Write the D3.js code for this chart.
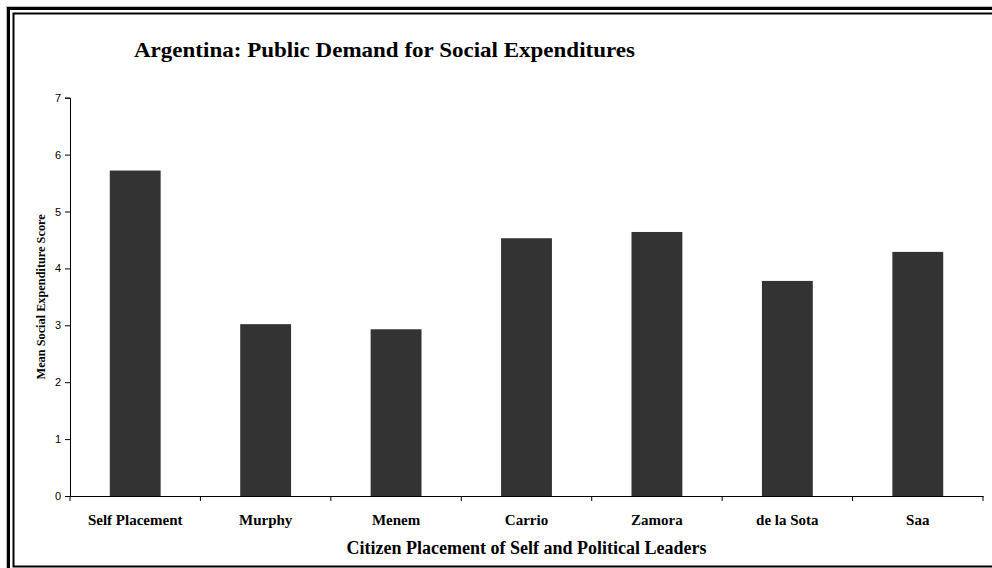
<!DOCTYPE html>
<html><head><meta charset="utf-8">
<script src="https://cdn.jsdelivr.net/npm/d3@7"></script>
<style>body{margin:0;background:#fff;} svg{display:block;}</style>
</head><body>
<svg id="c" width="992" height="568"></svg>
<script>
const categories = ["Self Placement","Murphy","Menem","Carrio","Zamora","de la Sota","Saa"];
const values = [5.72, 3.02, 2.93, 4.53, 4.64, 3.78, 4.29];
const yTicks = [0,1,2,3,4,5,6,7];
const titleText = "Argentina: Public Demand for Social Expenditures";
const xTitle = "Citizen Placement of Self and Political Leaders";
const yTitle = "Mean Social Expenditure Score";

(function(){
const svg = d3.select("#c");
const W = 992, H = 568;
const serif = "Liberation Serif, Times New Roman, serif";
// frame
svg.append("rect").attr("x",8.5).attr("y",8.5).attr("width",1000).attr("height",600)
  .attr("fill","none").attr("stroke","#000").attr("stroke-width",3);
svg.append("rect").attr("x",13.5).attr("y",13.5).attr("width",1000).attr("height",553)
  .attr("fill","none").attr("stroke","#000").attr("stroke-width",2);
svg.append("line").attr("x1",6).attr("x2",W).attr("y1",6.5).attr("y2",6.5).attr("stroke","#bbb").attr("stroke-width",1);
svg.append("line").attr("x1",6.5).attr("x2",6.5).attr("y1",6).attr("y2",H).attr("stroke","#bbb").attr("stroke-width",1);

const pl = 70, pr = 983, pt = 97.7, pb = 496;
const x = d3.scaleBand().domain(categories).range([pl,pr]).paddingInner(0.61).paddingOuter(0.305);
const xb = d3.scaleBand().domain(categories).range([pl,pr]);
const y = d3.scaleLinear().domain([0,7]).range([pb,pt]);

svg.append("g").selectAll("rect").data(values).join("rect")
  .attr("x",(d,i)=>x(categories[i])).attr("width",x.bandwidth())
  .attr("y",d=>y(d)).attr("height",d=>y(0)-y(d))
  .attr("fill","#333333");

// y axis
const ya = svg.append("g").attr("transform",`translate(${pl},0)`)
  .call(d3.axisLeft(y).tickValues(yTicks).tickFormat(d3.format("d")).tickSize(5).tickPadding(4));
ya.select(".domain").attr("stroke","#000");
ya.selectAll("line").attr("stroke","#000");
ya.selectAll("text").attr("font-family","Liberation Sans, Arial, sans-serif").attr("font-size",11).attr("fill","#000");

// x axis
const xa = svg.append("g").attr("transform",`translate(0,${pb})`)
  .call(d3.axisBottom(xb).tickSize(0).tickPadding(18));
xa.select(".domain").attr("stroke","#000");
xa.selectAll("text").attr("font-family",serif).attr("font-size",15).attr("font-weight","bold").attr("fill","#000");
xa.selectAll(".tk").data(categories.concat([null])).join("line").attr("class","tk")
  .attr("x1",(d,i)=> i<categories.length ? xb(d) : pr).attr("x2",(d,i)=> i<categories.length ? xb(d) : pr)
  .attr("y1",0).attr("y2",5).attr("stroke","#000");

svg.append("text").attr("x",134).attr("y",57).text(titleText)
  .attr("textLength",501).attr("lengthAdjust","spacingAndGlyphs")
  .attr("font-family",serif).attr("font-size",21).attr("font-weight","bold");
svg.append("text").attr("x",(pl+pr)/2).attr("y",554).attr("text-anchor","middle").text(xTitle)
  .attr("font-family",serif).attr("font-size",18).attr("font-weight","bold");
svg.append("text").attr("transform",`translate(45,${(pt+pb)/2}) rotate(-90)`).attr("text-anchor","middle").text(yTitle)
  .attr("font-family",serif).attr("font-size",12.3).attr("font-weight","bold");
})();
</script>
</body></html>
